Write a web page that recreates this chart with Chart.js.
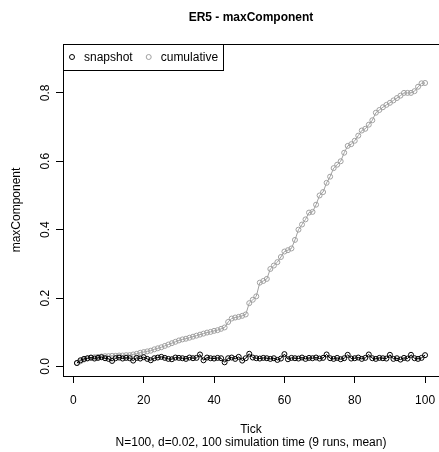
<!DOCTYPE html>
<html>
<head>
<meta charset="utf-8">
<script src="https://cdn.jsdelivr.net/npm/chart.js@4.4.0/dist/chart.umd.min.js"></script>
<style>
  html, body { margin: 0; padding: 0; background: #fff; }
</style>
</head>
<body>
<canvas id="chart" width="439" height="452"></canvas>
<script>
// values, one per tick (1..100)
var snapshot = [
  0.010, 0.018, 0.022, 0.024, 0.026, 0.023, 0.025, 0.027, 0.024, 0.022,
  0.016, 0.024, 0.026, 0.023, 0.025, 0.024, 0.017, 0.025, 0.023, 0.027,
  0.022, 0.018, 0.024, 0.026, 0.028, 0.025, 0.022, 0.021, 0.026, 0.025,
  0.024, 0.022, 0.026, 0.024, 0.025, 0.035, 0.018, 0.026, 0.024, 0.023,
  0.025, 0.024, 0.012, 0.024, 0.026, 0.022, 0.028, 0.017, 0.024, 0.037,
  0.026, 0.024, 0.023, 0.025, 0.024, 0.022, 0.024, 0.019, 0.023, 0.036,
  0.021, 0.025, 0.024, 0.023, 0.026, 0.022, 0.025, 0.024, 0.026, 0.023,
  0.025, 0.035, 0.024, 0.022, 0.025, 0.021, 0.024, 0.034, 0.023, 0.024,
  0.026, 0.022, 0.025, 0.035, 0.024, 0.022, 0.025, 0.024, 0.023, 0.034,
  0.022, 0.024, 0.020, 0.025, 0.023, 0.034, 0.024, 0.022, 0.025, 0.033
];
var cumulative = [
  0.010, 0.015, 0.020, 0.023, 0.025, 0.027, 0.028, 0.029, 0.030, 0.030,
  0.031, 0.031, 0.032, 0.032, 0.033, 0.033, 0.035, 0.037, 0.040, 0.042,
  0.044, 0.046, 0.050, 0.053, 0.056, 0.060, 0.064, 0.068, 0.072, 0.076,
  0.079, 0.081, 0.084, 0.087, 0.090, 0.093, 0.096, 0.099, 0.101, 0.104,
  0.106, 0.110, 0.114, 0.130, 0.140, 0.143, 0.145, 0.148, 0.152, 0.185,
  0.195, 0.205, 0.245, 0.250, 0.256, 0.285, 0.295, 0.305, 0.320, 0.336,
  0.340, 0.345, 0.370, 0.400, 0.415, 0.430, 0.450, 0.452, 0.473, 0.500,
  0.510, 0.537, 0.555, 0.580, 0.590, 0.600, 0.625, 0.645, 0.650, 0.660,
  0.675, 0.690, 0.695, 0.707, 0.720, 0.742, 0.750, 0.758, 0.765, 0.771,
  0.778, 0.785, 0.792, 0.800, 0.800, 0.800, 0.805, 0.818, 0.828, 0.829
];
var tick = snapshot.map(function(v, i){ return i + 1; });
var xTicks = [0, 20, 40, 60, 80, 100];
var yTicks = [0, 0.2, 0.4, 0.6, 0.8];
var yTickLabels = ['0.0', '0.2', '0.4', '0.6', '0.8'];

var FONT = 'Liberation Sans, Arial, sans-serif';
var GREY = '#a0a0a0';

function pts(arr) {
    return arr.map(function(v, i){ return {x: tick[i], y: v}; });
}

// R style box round the plot region
var boxPlugin = {
    id: 'rbox',
    afterDraw: function(chart) {
        var a = chart.chartArea, ctx = chart.ctx;
        ctx.save();
        ctx.strokeStyle = '#000';
        ctx.lineWidth = 1;
        ctx.strokeRect(Math.round(a.left) + 0.5, Math.round(a.top) + 0.5,
                       Math.round(a.right - a.left), Math.round(a.bottom - a.top));
        ctx.restore();
    }
};

// legend in the top left corner, inside the box
var legendPlugin = {
    id: 'rlegend',
    afterDraw: function(chart) {
        var a = chart.chartArea, ctx = chart.ctx;
        var left = Math.round(a.left), top = Math.round(a.top);
        var cy = top + 13;
        ctx.save();
        ctx.font = '12px ' + FONT;
        ctx.textBaseline = 'middle';
        ctx.textAlign = 'left';
        var x = left + 9;
        var end = x;
        chart.data.datasets.forEach(function(ds) {
            ctx.beginPath();
            ctx.arc(x, cy, 2.5, 0, Math.PI * 2);
            ctx.strokeStyle = ds.borderColor;
            ctx.lineWidth = 1;
            ctx.stroke();
            ctx.fillStyle = '#000';
            ctx.fillText(ds.label, x + 12, cy + 1);
            end = x + 12 + ctx.measureText(ds.label).width;
            x = end + 16;
        });
        ctx.strokeStyle = '#000';
        ctx.strokeRect(left + 0.5, top + 0.5, Math.round(end + 5 - left), 26);
        ctx.restore();
    }
};

function noPad(s) {
    s.paddingLeft = 0;
    s.paddingRight = 0;
    s.paddingTop = 0;
    s.paddingBottom = 0;
}

var ctx = document.getElementById('chart').getContext('2d');
var chart = new Chart(ctx, {
    type: 'line',
    data: {
        datasets: [{
            label: 'snapshot',
            data: pts(snapshot),
            borderColor: '#000',
            backgroundColor: 'transparent',
            borderWidth: 1,
            pointRadius: 2.5,
            pointBorderWidth: 1,
            pointBackgroundColor: 'transparent',
            pointBorderColor: '#000',
            tension: 0
        }, {
            label: 'cumulative',
            data: pts(cumulative),
            borderColor: GREY,
            backgroundColor: 'transparent',
            borderWidth: 1,
            pointRadius: 2.5,
            pointBorderWidth: 1,
            pointBackgroundColor: 'transparent',
            pointBorderColor: GREY,
            tension: 0
        }]
    },
    options: {
        responsive: false,
        animation: false,
        devicePixelRatio: 1,
        layout: { autoPadding: false, padding: { left: 0, right: 0, top: 0, bottom: 0 } },
        plugins: {
            legend: { display: false },
            tooltip: { enabled: false },
            title: {
                display: true,
                text: 'ER5 - maxComponent',
                fullSize: false,
                color: '#000',
                font: { family: FONT, size: 12, weight: 'bold', lineHeight: 1.2 },
                padding: { top: 10, bottom: 19.6 }
            }
        },
        scales: {
            x: {
                type: 'linear',
                min: -2.96,
                max: 103.96,
                afterFit: function(s) { s.height = 76; noPad(s); },
                afterBuildTicks: function(s) {
                    s.ticks = xTicks.map(function(v){ return {value: v}; });
                },
                grid: { drawOnChartArea: false, drawTicks: true, tickLength: 7, color: '#000' },
                border: { display: true, color: '#000' },
                ticks: {
                    color: '#000',
                    padding: 10,
                    maxRotation: 0,
                    font: { family: FONT, size: 12 }
                },
                title: {
                    display: true,
                    text: ['Tick', 'N=100, d=0.02, 100 simulation time (9 runs, mean)'],
                    color: '#000',
                    font: { family: FONT, size: 12, lineHeight: 1.08 },
                    padding: { top: 0, bottom: 3 }
                }
            },
            y: {
                type: 'linear',
                min: -0.028,
                max: 0.943,
                afterFit: function(s) { s.width = 63; noPad(s); },
                afterBuildTicks: function(s) {
                    s.ticks = yTicks.map(function(v){ return {value: v}; });
                },
                grid: { drawOnChartArea: false, drawTicks: true, tickLength: 7, color: '#000' },
                border: { display: true, color: '#000' },
                ticks: {
                    color: '#000',
                    minRotation: 90,
                    maxRotation: 90,
                    crossAlign: 'center',
                    padding: 2,
                    font: { family: FONT, size: 12 },
                    callback: function(v, i) { return yTickLabels[i]; }
                },
                title: {
                    display: true,
                    text: 'maxComponent',
                    color: '#000',
                    font: { family: FONT, size: 12, lineHeight: 1.08 },
                    padding: { top: 10, bottom: 0 }
                }
            }
        }
    },
    plugins: [boxPlugin, legendPlugin]
});
</script>
</body>
</html>
